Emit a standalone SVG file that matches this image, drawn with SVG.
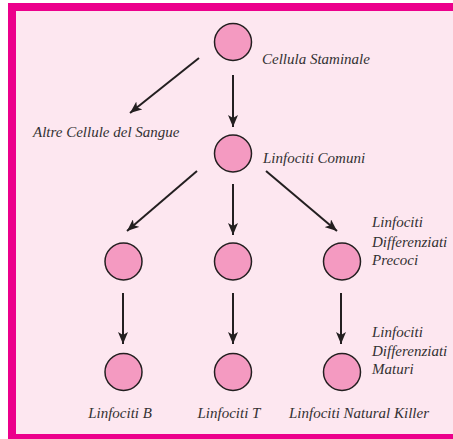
<svg xmlns="http://www.w3.org/2000/svg" width="453" height="439" viewBox="0 0 453 439">
<defs>
<marker id="ah" viewBox="0 0 12 10" refX="12" refY="5" markerWidth="12" markerHeight="10" markerUnits="userSpaceOnUse" orient="auto">
<path d="M0,0 L12,5 L0,10 L3,5 Z" fill="#231F20"/>
</marker>
<style>
.node circle{fill:#F49AC1;stroke:#231F20;stroke-width:1.5}
.conn line{stroke:#231F20;stroke-width:2;marker-end:url(#ah)}
text{font-family:"Liberation Serif","Times New Roman",serif;font-style:italic;font-size:15px;fill:#333132}
</style>
</defs>
<rect x="0" y="0" width="453" height="439" fill="#ffffff"/>
<rect x="8" y="3" width="460" height="450" fill="#EC008C"/>
<rect x="16" y="11" width="460" height="423" fill="#FDE7F0"/>
<g id="connectors" class="conn">
<line x1="199" y1="58" x2="130" y2="113"/>
<line x1="233" y1="75" x2="233" y2="127"/>
<line x1="197" y1="171" x2="127" y2="231"/>
<line x1="233" y1="184" x2="233" y2="235"/>
<line x1="266" y1="171" x2="337" y2="231"/>
<line x1="123" y1="293" x2="123" y2="344"/>
<line x1="233" y1="293" x2="233" y2="344"/>
<line x1="341" y1="293" x2="341" y2="344"/>
</g>
<g id="staminale" class="node"><circle cx="233" cy="42" r="18.5"/><text x="262" y="64">Cellula Staminale</text></g>
<g id="altre" class="node"><text x="33" y="137">Altre Cellule del Sangue</text></g>
<g id="comuni" class="node"><circle cx="233" cy="153.5" r="18.5"/><text x="263" y="163">Linfociti Comuni</text></g>
<g id="precoce-b" class="node"><circle cx="123.5" cy="261.5" r="18.5"/></g>
<g id="precoce-t" class="node"><circle cx="233" cy="261.5" r="18.5"/></g>
<g id="precoce-nk" class="node"><circle cx="342" cy="261.5" r="18.5"/>
<text x="372" y="227">Linfociti</text><text x="372" y="246.5">Differenziati</text><text x="372" y="265">Precoci</text></g>
<g id="b" class="node"><circle cx="123.5" cy="372" r="18.5"/><text x="120" y="418" text-anchor="middle">Linfociti B</text></g>
<g id="t" class="node"><circle cx="233" cy="372" r="18.5"/><text x="229" y="418" text-anchor="middle">Linfociti T</text></g>
<g id="nk" class="node"><circle cx="342" cy="372" r="18.5"/><text x="359" y="418" text-anchor="middle">Linfociti Natural Killer</text>
<text x="372" y="337">Linfociti</text><text x="372" y="356">Differenziati</text><text x="372" y="374">Maturi</text></g>
</svg>
